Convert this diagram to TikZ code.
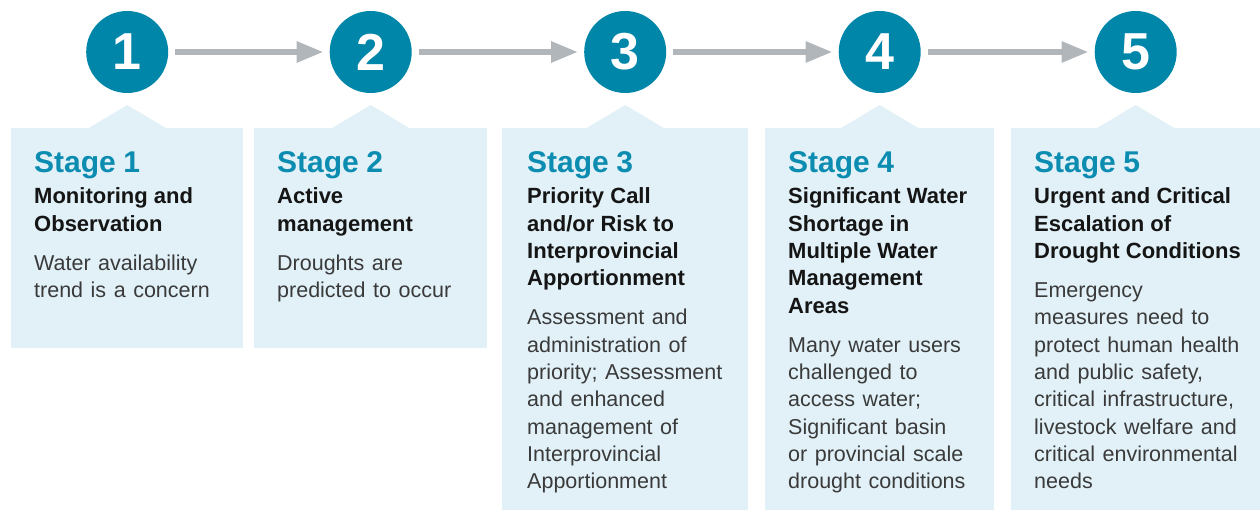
\documentclass[tikz,border=0pt]{standalone}
\usepackage{fontspec}
\setmainfont{Liberation Sans}
\usetikzlibrary{arrows.meta}

\definecolor{stageteal}{HTML}{0086A9}
\definecolor{stagetitle}{HTML}{0B8CB0}
\definecolor{boxfill}{HTML}{E1F1F7}
\definecolor{flowgray}{HTML}{B1B6BB}
\definecolor{headcol}{HTML}{151515}
\definecolor{bodycol}{HTML}{3A3A3A}

\begin{document}
\begin{tikzpicture}[x=1pt, y=-1pt,
  stagebox/.style={fill=boxfill, inner sep=0pt, anchor=north west},
  stagenum/.style={circle, fill=stageteal, text=white, minimum size=82pt,
    inner sep=0pt, font=\fontsize{52}{52}\selectfont\bfseries},
  stagetext/.style={anchor=base west, inner sep=0pt, text width=240pt, align=left},
  flow/.style={draw=flowgray, line width=6pt, -{Triangle[length=27pt,width=20pt]},
    shorten <=7pt, shorten >=6pt}]

\newcommand\Stage[3]{%
  {\color{stagetitle}\fontsize{30}{31}\selectfont\bfseries\spaceskip=.25em #1\par}\vspace{3.7pt}%
  {\color{headcol}\fontsize{22}{27.3}\selectfont\bfseries\spaceskip=.28em #2\par}\vspace{11.7pt}%
  {\color{bodycol}\fontsize{21.5}{27.3}\selectfont\spaceskip=.35em #3\par}}

\useasboundingbox (0,0) rectangle (1260,510);

%% boxes
\node[stagebox, minimum width=232pt, minimum height=220pt] (box1) at (11,128) {};
\node[stagebox, minimum width=233pt, minimum height=220pt] (box2) at (254,128) {};
\node[stagebox, minimum width=246pt, minimum height=382pt] (box3) at (502,128) {};
\node[stagebox, minimum width=229pt, minimum height=382pt] (box4) at (765,128) {};
\node[stagebox, minimum width=249pt, minimum height=382pt] (box5) at (1011,128) {};

%% pointers and numbers
\foreach \i in {1,...,5}{
  \fill[boxfill] ([xshift=-38.5pt]box\i.north) -- ++(38.5,-23) -- ++(38.5,23) -- cycle;
  \node[stagenum] (num\i) at ([yshift=76pt]box\i.north) {\i};
}

\draw[flow] (num1) -- (num2);
\draw[flow] (num2) -- (num3);
\draw[flow] (num3) -- (num4);
\draw[flow] (num4) -- (num5);

%% texts
\node[stagetext] (txt1) at ([xshift=23pt,yshift=-45pt]box1.north west)
{\Stage{Stage 1}{Monitoring and\\Observation}{Water availability\\trend is a concern}};
\node[stagetext] (txt2) at ([xshift=23pt,yshift=-45pt]box2.north west)
{\Stage{Stage 2}{Active\\management}{Droughts are\\predicted to occur}};
\node[stagetext] (txt3) at ([xshift=25pt,yshift=-45pt]box3.north west)
{\Stage{Stage 3}{Priority Call\\and/or Risk to\\Interprovincial\\Apportionment}
{Assessment and\\administration of\\priority; Assessment\\and enhanced\\management of\\Interprovincial\\Apportionment}};
\node[stagetext] (txt4) at ([xshift=23pt,yshift=-45pt]box4.north west)
{\Stage{Stage 4}{Significant Water\\Shortage in\\Multiple Water\\Management\\Areas}
{Many water users\\challenged to\\access water;\\Significant basin\\or provincial scale\\drought conditions}};
\node[stagetext] (txt5) at ([xshift=23pt,yshift=-45pt]box5.north west)
{\Stage{Stage 5}{Urgent and Critical\\Escalation of\\Drought Conditions}
{Emergency\\measures need to\\protect human health\\and public safety,\\critical infrastructure,\\livestock welfare and\\critical environmental\\needs}};

\end{tikzpicture}
\end{document}
